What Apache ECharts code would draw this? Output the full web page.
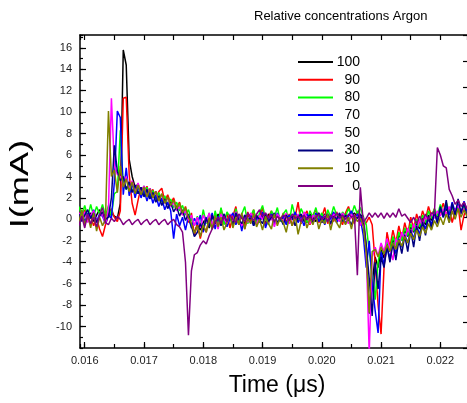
<!DOCTYPE html>
<html>
<head>
<meta charset="utf-8">
<title>Relative concentrations Argon</title>
<script src="https://cdn.jsdelivr.net/npm/echarts@6.0.0/dist/echarts.min.js"></script>
<style>
  html, body { margin: 0; padding: 0; background: #fff; }
  #chart { width: 467px; height: 403px; }
</style>
</head>
<body>
<div id="chart"></div>
<script>
// sampling grid of the scope trace (s)
var t0 = 0.0159, dt = 0.00005, nPts = 133;

var names = ['100', '90', '80', '70', '50', '30', '10', '0'];
var colors = ['#000000', '#ff0000', '#00ff00', '#0000ff', '#ff00ff', '#000080', '#808000', '#800080'];

// current I(mA), one value per sample
var s100 = [0.5, 0.2, 0.8, 0.1, 0.6, -0.2, 0.4, 0.9, 0.3, 0.5,
  0.2, 0.6, 0.3, 0.1, 1.5, 15.8, 14.4, 5.6, 4.0, 3.0,
  3.3, 2.5, 3.1, 2.4, 2.9, 2.2, 2.6, 1.9, 2.3, 1.6,
  2.0, 1.3, 1.7, 0.9, 1.2, 0.5, 0.8, 0.1, -0.6, -1.2,
  -0.5, -1.0, -0.3, 0.2, -0.8, 0.3, -0.4, 0.5, -0.2, 0.4,
  -0.6, 0.2, -0.3, 0.5, -0.1, 0.3, -0.5, 0.4, 0.0, -0.3,
  0.4, -0.2, 0.3, -0.4, 0.5, 0.1, -0.3, 0.4, -0.1, 0.2,
  -0.4, 0.3, 0.0, 0.6, -0.2, 0.4, 0.1, -0.3, 0.5, 0.2,
  -0.2, 0.4, 0.1, 0.5, -0.1, 0.3, 0.6, 0.0, 0.4, 0.2,
  0.5, -0.1, 0.3, 0.6, 0.2, 0.4, 0.3, -2.5, -8.8, -6.0,
  -3.5, -4.5, -2.8, -3.6, -2.2, -3.0, -1.8, -2.6, -1.4, -2.0,
  -1.0, -1.6, -0.7, -1.2, -0.3, -0.9, 0.1, -0.5, 0.4, -0.1,
  0.6, 0.2, 0.9, 0.3, 1.0, 0.5, 1.2, 0.4, 1.1, 0.6,
  1.3, 0.7, 1.0];

var s90 = [0.6, 0.2, 0.9, -0.2, 0.3, -0.6, 0.1, -0.9, -1.6, -0.5,
  0.4, 1.0, 0.2, -0.2, 0.8, 11.3, 11.4, 4.2, 1.5, 0.4,
  1.8, 3.0, 2.2, 3.1, 2.0, 2.8, 1.9, 2.6, 2.9, 1.7,
  2.3, 1.5, 2.0, 1.1, 1.6, 0.4, 1.2, -0.3, 0.6, -1.5,
  -0.4, -1.8, -0.6, -1.2, 0.2, -0.9, 0.5, -0.7, 1.0, -0.2,
  0.6, -0.8, 0.3, 1.2, -0.5, 0.4, -0.9, 0.7, -0.2, 0.9,
  -0.4, 0.3, 1.1, -0.6, 0.2, 0.8, -0.5, 0.4, -0.2, 0.6,
  -0.3, 0.5, -0.6, 0.2, 1.6, -0.4, 0.3, 0.8, -0.5, 0.4,
  0.9, -0.3, 0.2, 1.1, -0.4, 0.5, -0.2, 0.7, 0.1, -0.5,
  0.6, 1.2, 0.3, -0.4, 0.8, 0.2, -0.6, -0.3, 0.2, -0.5,
  -4.0, -8.0, -10.7, -4.5, -1.2, -2.6, -1.0, -2.2, -0.6, -1.8,
  -0.3, -1.4, 0.2, -0.9, 0.5, -0.4, 0.8, 0.0, 1.2, 0.3,
  1.0, -0.2, 0.7, 1.5, 0.4, 1.1, -0.3, 0.8, 1.3, -1.0,
  0.4, 1.0, 0.6];

var s80 = [1.2, 0.4, 1.3, 0.2, 1.4, 0.3, 1.2, 0.5, 1.4, 0.3,
  1.3, 0.3, 2.4, 2.6, 8.3, 3.2, 2.8, 3.4, 2.6, 3.1,
  2.4, 2.9, 2.2, 3.0, 2.0, 2.7, 1.9, 2.5, 1.6, 2.2,
  1.4, 1.9, 1.1, 1.6, 0.8, 1.3, 0.4, 0.9, 0.0, -0.6,
  0.3, -0.8, 0.9, -0.4, 0.6, -0.9, 0.8, -0.3, 1.1, -0.5,
  0.7, 0.2, -0.6, 1.0, -0.2, 0.5, 1.2, -0.4, 0.3, 0.9,
  -0.3, 0.6, 1.3, 0.1, -0.5, 0.8, 0.2, 1.1, -0.2, 0.5,
  0.9, -0.4, 1.4, 0.3, -0.1, 1.0, 0.4, -0.3, 0.8, 0.2,
  1.1, 0.0, 0.6, -0.3, 0.9, 0.2, 1.2, 0.4, -0.2, 0.7,
  0.3, 1.0, 0.4, 1.3, 0.5, 1.1, 0.2, -0.5, -3.0, -5.0,
  -7.5, -4.0, -2.4, -3.2, -2.0, -2.9, -1.6, -2.5, -1.2, -2.0,
  -0.8, -1.5, -0.4, -1.1, 0.0, -0.7, 0.4, -0.3, 0.8, 0.1,
  1.0, 0.3, 1.4, 0.5, 1.6, 0.7, 1.3, 0.4, 1.1, 0.6,
  1.2, 0.5, 0.9];

var s70 = [0.2, 0.8, -0.3, 0.6, 0.1, 0.9, -0.2, 0.5, 0.3, -0.4,
  0.4, 0.1, 3.5, 10.1, 9.5, 2.3, 4.8, 2.2, 3.4, 2.0,
  3.1, 2.0, 2.8, 1.7, 2.6, 1.5, 2.3, 1.2, 2.0, 0.9,
  1.6, 0.8, -1.8, 0.5, -0.6, 0.2, -1.0, 0.3, -0.8, 0.1,
  -0.5, 0.4, -1.2, 0.2, -0.4, 0.6, -0.9, 0.3, -0.2, 0.5,
  -0.7, 0.1, 0.6, -0.5, 0.3, -1.1, 0.4, -0.2, 0.5, -0.6,
  0.2, -0.3, 0.7, -0.8, 0.1, 0.5, -0.4, 0.6, -0.1, 0.3,
  -0.5, 0.4, 0.0, 0.7, -0.3, 0.2, -0.6, 0.5, 0.1, -0.4,
  0.6, -0.2, 0.3, -0.5, 0.4, 0.0, 0.7, -0.3, 0.2, 0.5,
  -0.4, 0.3, 0.8, -0.2, 0.5, 0.1, -1.5, -4.5, -2.0, -6.0,
  -8.5, -10.6, -3.0, -4.2, -2.6, -3.6, -2.2, -3.2, -1.8, -2.6,
  -1.4, -2.2, -1.0, -1.8, -0.6, -1.4, -0.2, -0.9, 0.3, -0.5,
  0.6, -0.2, 1.0, 0.2, 1.3, 0.4, 1.6, 0.7, 1.4, 0.5,
  1.7, 0.8, 1.2];

var s50 = [0.6, 0.0, 0.7, -0.3, 0.4, 0.8, -0.2, 0.3, 0.5, -0.4,
  1.0, 11.3, 5.0, 4.2, 4.0, 3.1, 4.0, 2.8, 3.6, 2.6,
  3.4, 2.4, 3.1, 2.2, 2.9, 2.0, 2.6, 1.8, 2.3, 1.5,
  2.0, 1.2, 1.6, 0.8, 1.2, 0.4, 0.8, -0.1, 0.4, -0.6,
  0.2, -0.8, 0.4, -0.3, 0.6, -0.5, 0.3, -0.9, 0.5, 0.0,
  -0.4, 0.5, -0.2, 0.7, 0.1, -0.6, 0.4, -0.3, 0.6, 0.2,
  -0.5, 0.4, 0.0, 0.6, -0.3, 0.2, -0.7, 0.5, 0.1, -0.2,
  0.6, -0.4, 0.3, 0.0, 0.5, -0.3, 0.7, 0.2, -0.4, 0.4,
  0.0, 0.6, -0.3, 0.4, 0.1, -0.5, 0.5, 0.2, -0.2, 0.6,
  0.1, -0.4, 0.5, 0.0, 0.3, -0.6, 0.2, -3.0, -12.5, -3.5,
  -2.6, -3.4, -2.2, -3.0, -1.8, -2.7, -3.8, -1.8, -2.4, -1.2,
  -1.9, -0.8, -1.5, -0.4, -1.0, 0.0, -0.6, 0.3, -0.2, 0.6,
  0.1, 0.8, 0.3, 1.0, 0.4, 1.2, 0.5, 0.9, 1.3, 0.6,
  1.0, 0.4, 0.8];

var s30 = [0.5, -0.2, 0.4, 0.9, 0.1, 0.6, -0.3, 0.3, 0.7, 0.0,
  0.2, 2.0, 6.9, 4.5, 3.6, 4.0, 2.8, 3.5, 2.5, 3.2,
  2.4, 3.0, 2.1, 2.8, 1.9, 2.5, 1.6, 2.2, 1.3, 1.9,
  1.0, 1.6, 0.7, 1.2, 0.3, 0.9, -0.1, 0.5, -0.6, -1.6,
  -1.2, -0.4, -1.0, 0.1, -0.7, 0.4, -0.3, 0.2, -0.6, 0.5,
  -0.2, 0.3, -0.5, 0.6, 0.0, -0.4, 0.4, -0.1, 0.2, -0.6,
  0.3, 0.0, -0.4, 0.5, -0.2, 0.2, 0.6, -0.3, 0.1, -0.5,
  0.4, -0.1, 0.3, -0.6, 0.2, 0.5, -0.2, 0.1, 0.4, -0.3,
  0.2, 0.6, -0.3, 0.1, 0.5, -0.4, 0.3, 0.0, 0.6, -0.2,
  0.4, 0.0, -0.5, 0.3, 0.1, 0.5, -0.3, -2.5, -5.5, -9.0,
  -4.0, -6.5, -3.5, -4.5, -2.5, -4.0, -2.2, -3.8, -1.9, -3.2,
  -1.5, -3.0, -1.0, -2.6, -0.6, -2.0, -0.2, -1.5, 0.3, -0.9,
  0.8, -0.4, 1.2, 0.2, 1.8, -0.3, 1.5, 0.4, 1.9, 0.6,
  1.6, 0.2, 1.3];

var s10 = [-0.3, 0.9, -0.5, 0.4, -0.8, 0.6, -1.1, 0.2, -0.6, 0.0,
  10.1, 4.0, 4.6, 2.5, 5.0, 3.0, 3.8, 2.6, 3.5, 2.4,
  3.2, 2.3, 3.0, 2.1, 2.8, 2.0, 2.6, 1.7, 2.4, 1.5,
  2.1, 1.3, 1.8, 1.0, 1.5, 0.6, 1.1, 0.2, -0.4, -1.3,
  -0.6, -1.6, -0.5, -1.2, 0.1, -0.9, 0.3, -0.7, 0.2, -1.0,
  -0.3, 0.4, -0.8, 0.2, -0.5, 0.6, -0.9, 0.1, -0.4, 0.5,
  -0.7, 0.0, -1.0, 0.3, -0.4, -0.9, 0.5, -0.6, 0.2, -0.3,
  -1.2, 0.2, -0.6, 0.4, -1.4, -0.2, 0.3, -0.8, 0.1, -0.5,
  0.4, -0.9, 0.0, -0.4, 0.5, -1.0, 0.2, -0.3, -0.8, 0.3,
  -0.5, 0.2, -0.9, 0.4, -0.2, 0.1, -0.6, -3.2, -8.7, -3.0,
  -2.8, -3.5, -2.6, -3.2, -2.4, -3.0, -2.2, -2.8, -1.9, -2.5,
  -1.6, -2.2, -1.3, -1.9, -1.0, -1.6, -0.7, -1.3, -0.4, -1.0,
  -0.1, -0.7, 0.2, -0.5, 0.5, -0.3, 0.8, 0.0, 1.0, 0.2,
  0.9, 0.3, 0.7];

var s0 = [-0.6, 0.3, -0.8, 0.5, -0.4, 0.2, -0.7, 0.4, 1.1, -0.3,
  -0.5, 0.1, -0.2, 0.3, 0.0, -0.5, -0.2, 0.0, -0.5, -0.2,
  0.0, -0.5, -0.2, 0.0, -0.5, -0.2, 0.0, -0.5, -0.2, 0.0,
  -0.5, -0.2, 0.0, -0.5, -0.7, -1.2, -4.0, -10.8, -4.8, -3.3,
  -3.1, -2.4, -2.0, -2.3, -1.5, -0.9, -0.3, 0.2, -0.4, 0.3,
  -0.2, 0.4, 0.0, -0.3, 0.5, 0.1, -0.2, 0.6, 0.2, -0.1,
  0.5, 0.9, 0.3, 0.6, 0.1, 0.4, -0.2, 0.3, 0.0, 0.4,
  0.2, -0.1, 0.5, 0.1, 0.3, -0.2, 0.4, 0.0, 0.3, -0.1,
  0.2, 0.5, 0.0, 0.3, -0.2, 0.4, 0.1, 0.6, 0.2, 0.4,
  0.0, 0.5, 0.2, 0.4, -5.2, 3.0, -0.3, 0.1, 0.6, 0.2,
  0.6, 0.2, 0.6, 0.1, 0.6, 0.2, 0.6, 0.2, 1.0, 0.3,
  0.5, 0.1, -0.3, 0.2, -0.4, 0.3, -0.2, 0.5, 0.0, 0.6,
  0.5, 6.7, 6.0, 5.0, 4.8, 2.8, 2.2, 1.4, 1.8, 1.2,
  1.6, 1.0, 1.3];

var allSeries = [s100, s90, s80, s70, s50, s30, s10, s0];

var xMin = 0.01592, xMax = 0.02245;
var yMin = -12, yMax = 17.2;
var fontFam = 'Liberation Sans, Arial, sans-serif';

var times = [];
for (var i = 0; i < nPts; i++) {
  times.push(+(t0 + i * dt).toFixed(5));
}

function pairs(vals) {
  var out = [];
  for (var i = 0; i < vals.length; i++) {
    out.push([times[i], vals[i]]);
  }
  return out;
}

var series = [];
for (var k = 0; k < names.length; k++) {
  series.push({
    name: names[k],
    type: 'line',
    xAxisIndex: 0,
    yAxisIndex: 0,
    data: pairs(allSeries[k]),
    symbol: 'none',
    showSymbol: false,
    clip: true,
    lineStyle: { color: colors[k], width: 1.5 },
    itemStyle: { color: colors[k] }
  });
}

var chart = echarts.init(document.getElementById('chart'), null, { renderer: 'canvas' });
chart.setOption({
  animation: false,
  textStyle: { fontFamily: fontFam },
  title: {
    text: 'Relative concentrations Argon',
    left: 254,
    top: 10,
    padding: 0,
    textStyle: { fontSize: 13, fontWeight: 'normal', color: '#000', fontFamily: fontFam }
  },
  grid: { left: 80, right: 0, top: 35, bottom: 55, containLabel: false },
  legend: {
    orient: 'vertical',
    left: 298,
    top: 55,
    padding: 0,
    icon: 'path://M0,0L35,0L35,2L0,2Z',
    itemWidth: 35,
    itemHeight: 14,
    itemGap: 3.7,
    data: names,
    formatter: '{a|{name}}',
    textStyle: {
      color: '#000',
      fontSize: 14,
      fontFamily: fontFam,
      rich: { a: { width: 22, align: 'right', fontSize: 14, color: '#000', fontFamily: fontFam } }
    }
  },
  xAxis: [
    {
      type: 'value', position: 'bottom', min: xMin, max: xMax,
      minInterval: 0.001, maxInterval: 0.001,
      axisLine: { onZero: false, lineStyle: { color: '#000', width: 1.5 } },
      axisTick: { inside: true, length: 6, lineStyle: { color: '#000', width: 1.2 } },
      axisLabel: {
        showMinLabel: false, showMaxLabel: false, margin: 7,
        fontSize: 11, color: '#222', fontFamily: fontFam,
        formatter: function (v) { return v.toFixed(3); }
      },
      splitLine: { show: false }
    },
    {
      type: 'value', position: 'bottom', min: xMin, max: xMax,
      minInterval: 0.0005, maxInterval: 0.0005,
      axisLine: { show: false, onZero: false },
      axisTick: { inside: true, length: 4, lineStyle: { color: '#000', width: 1.2 } },
      axisLabel: { show: false },
      splitLine: { show: false }
    },
    {
      type: 'value', position: 'top', min: xMin, max: xMax,
      minInterval: 0.0005, maxInterval: 0.0005,
      axisLine: { show: true, onZero: false, lineStyle: { color: '#000', width: 1.5 } },
      axisTick: { inside: true, length: 5, lineStyle: { color: '#000', width: 1.2 } },
      axisLabel: { show: false },
      splitLine: { show: false }
    }
  ],
  yAxis: [
    {
      type: 'value', position: 'left', min: yMin, max: yMax, interval: 2,
      axisLine: { show: true, onZero: false, lineStyle: { color: '#000', width: 1.5 } },
      axisTick: { inside: true, length: 6, lineStyle: { color: '#000', width: 1.2 } },
      axisLabel: {
        showMinLabel: false, showMaxLabel: false, margin: 8,
        fontSize: 11, color: '#222', fontFamily: fontFam
      },
      splitLine: { show: false }
    },
    {
      type: 'value', position: 'left', min: yMin, max: yMax, interval: 1,
      axisLine: { show: false, onZero: false },
      axisTick: { inside: true, length: 3, lineStyle: { color: '#000', width: 1.2 } },
      axisLabel: { show: false },
      splitLine: { show: false }
    },
    {
      type: 'value', position: 'right', min: 0, max: 12, interval: 1,
      axisLine: { show: false, onZero: false },
      axisTick: { inside: true, length: 4, lineStyle: { color: '#000', width: 1.2 } },
      axisLabel: { show: false },
      splitLine: { show: false }
    }
  ],
  graphic: [
    {
      type: 'text', x: 277, y: 386,
      style: {
        text: 'Time (\u03bcs)', fontSize: 23, fontFamily: fontFam, fill: '#000',
        align: 'center', verticalAlign: 'middle', textAlign: 'center', textVerticalAlign: 'middle'
      }
    },
    {
      type: 'text', x: 21, y: 184, rotation: Math.PI / 2, scaleX: 1.45,
      style: {
        text: 'I(mA)', fontSize: 25, fontFamily: fontFam, fill: '#000',
        align: 'center', verticalAlign: 'middle', textAlign: 'center', textVerticalAlign: 'middle'
      }
    }
  ],
  series: series
});
</script>
</body>
</html>
